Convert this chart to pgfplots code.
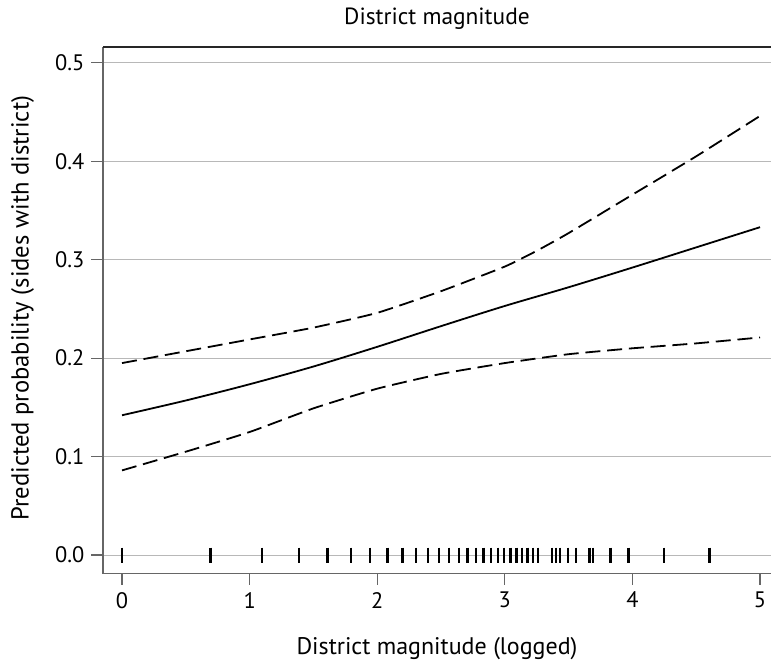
\documentclass[border=0pt]{standalone}
\usepackage{fontspec}
\setmainfont{PT Sans}
\usepackage{pgfplots}
\usepackage{pgfplotstable}
\pgfplotsset{compat=1.18}

\pgfplotstableread{
x y
0.0 0.142
0.5 0.157
1.0 0.1735
1.5 0.1915
2.0 0.2115
2.5 0.2325
3.0 0.2530
3.5 0.2720
4.0 0.2920
4.5 0.3125
5.0 0.333
}\fittedtab

\pgfplotstableread{
x y
0.0 0.195
0.5 0.207
1.0 0.219
1.5 0.231
2.0 0.246
2.5 0.268
3.0 0.293
3.25 0.309
3.5 0.327
4.0 0.366
4.5 0.405
5.0 0.446
}\uppertab

\pgfplotstableread{
x y
0.0 0.086
0.5 0.105
1.0 0.125
1.5 0.149
2.0 0.169
2.5 0.184
3.0 0.195
3.5 0.204
4.0 0.210
4.5 0.215
5.0 0.221
}\lowertab

\pgfplotstableread{
x y
0 0
0.6931 0
1.0986 0
1.3863 0
1.6094 0
1.7918 0
1.9459 0
2.0794 0
2.1972 0
2.3026 0
2.3979 0
2.4849 0
2.5649 0
2.6391 0
2.7081 0
2.7726 0
2.8332 0
2.8904 0
2.9444 0
2.9957 0
3.0445 0
3.0910 0
3.1355 0
3.1781 0
3.2189 0
3.2581 0
3.3673 0
3.4012 0
3.4340 0
3.4965 0
3.5553 0
3.6636 0
3.6889 0
3.8286 0
3.9703 0
4.2485 0
4.6052 0
}\rugtab

\begin{document}
\begin{tikzpicture}
\begin{axis}[
  scale only axis,
  width=334pt, height=263.2pt,
  xmin=-0.149, xmax=5.086, ymin=-0.0186, ymax=0.516,
  axis line style={draw=none},
  xtick={0,1,2,3,4,5},
  xticklabels={0,1,2,3,4,5},
  ytick={0,0.1,0.2,0.3,0.4,0.5},
  yticklabels={0.0,0.1,0.2,0.3,0.4,0.5},
  xtick pos=bottom, ytick pos=left,
  tick align=outside,
  major tick length=5.8pt,
  tick style={black!60, line width=0.6pt},
  ymajorgrids,
  grid style={black!28, line width=0.55pt},
  font=\fontsize{11.2}{13}\selectfont,
  every axis title shift=0pt,
  title={District magnitude},
  title style={at={(axis description cs:0.5,1.054)}, anchor=center, font=\fontsize{11.7}{13}\selectfont},
  xlabel={District magnitude (logged)},
  xlabel style={at={(axis description cs:0.5,-0.142)}, anchor=center, font=\fontsize{12}{14}\selectfont},
  ylabel={Predicted probability (sides with district)},
  ylabel style={at={(axis description cs:-0.1205,0.504)}, anchor=center, rotate=0, font=\fontsize{12.3}{14}\selectfont},
  clip=false,
]
\addplot[black, line width=0.9pt, smooth, tension=0.5] table {\fittedtab};
\addplot[black, line width=0.9pt, smooth, tension=0.3, dash pattern=on 7.5pt off 3.4pt] table {\uppertab};
\addplot[black, line width=0.9pt, smooth, tension=0.3, dash pattern=on 7.5pt off 3.4pt] table {\lowertab};
\addplot[only marks, mark=|, mark size=3.75pt, mark options={line width=1.15pt, black}] table {\rugtab};
\draw[black!60, line width=0.6pt] (rel axis cs:0,1) -- (rel axis cs:0,0) -- (rel axis cs:1,0);
\draw[black!85, line width=0.6pt] (rel axis cs:0,1) -- (rel axis cs:1,1);
\coordinate (bbl) at (rel axis cs:-0.1542,-0.1704);
\coordinate (btr) at (rel axis cs:1,1.0893);
\end{axis}
\pgfresetboundingbox
\useasboundingbox (bbl) rectangle (btr);
\end{tikzpicture}
\end{document}
